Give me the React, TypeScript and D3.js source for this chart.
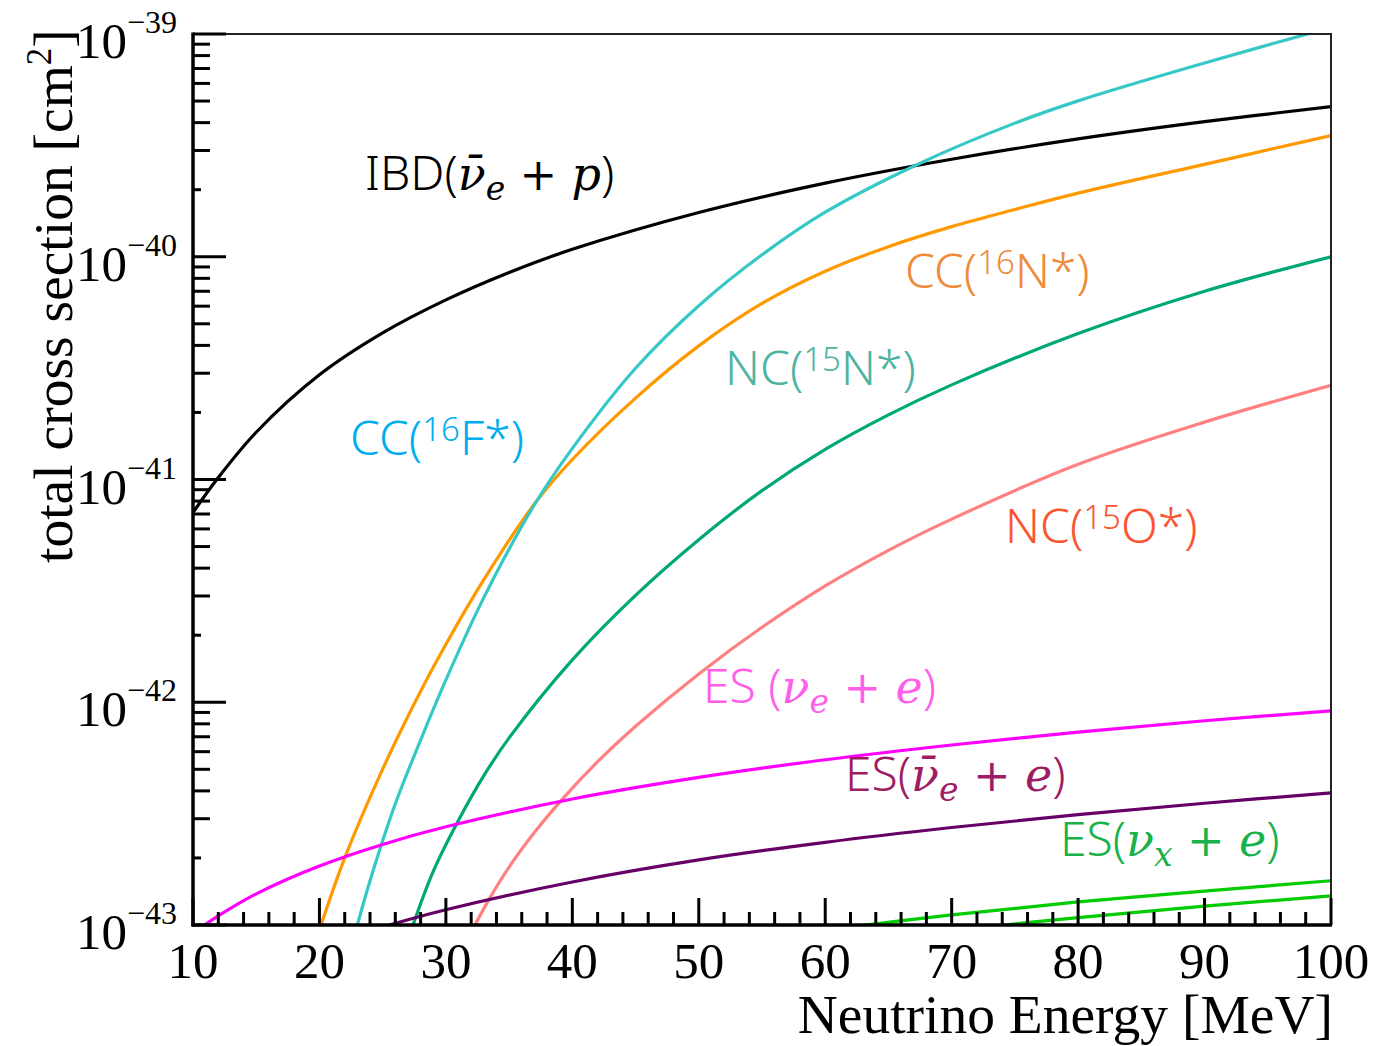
import React from "react";
import * as d3 from "d3";

type Pt = [number, number];

// Total cross sections [cm^2] versus neutrino energy [MeV]
const ibdData: Pt[] = [
  [10, 7.1e-42], [12, 1.02e-41], [15, 1.63e-41], [20, 2.95e-41], [25, 4.55e-41],
  [30, 6.4e-41], [35, 8.5e-41], [40, 1.08e-40], [50, 1.58e-40], [60, 2.14e-40],
  [70, 2.74e-40], [80, 3.38e-40], [90, 4.04e-40], [100, 4.72e-40],
];
const cc16FData: Pt[] = [
  [23, 1.0e-43], [24, 1.58e-43], [26, 3.5e-43], [28, 6.76e-43], [30, 1.26e-42],
  [33, 2.95e-42], [37, 7.7e-42], [40, 1.38e-41], [45, 3.16e-41], [50, 6.03e-41],
  [55, 1.02e-40], [60, 1.585e-40], [67.5, 2.63e-40], [75, 3.98e-40], [80, 5.01e-40],
  [90, 7.41e-40], [100, 1.07e-39],
];
const cc16NData: Pt[] = [
  [20, 9.5e-44], [22, 2.0e-43], [25, 5.01e-43], [28, 1.12e-42], [30, 1.82e-42],
  [33, 3.55e-42], [37, 7.76e-42], [40, 1.23e-41], [45, 2.32e-41], [50, 3.98e-41],
  [55, 6.17e-41], [60, 8.61e-41], [65, 1.11e-40], [70, 1.365e-40], [75, 1.63e-40],
  [80, 1.93e-40], [90, 2.6e-40], [100, 3.5e-40],
];
const nc15NData: Pt[] = [
  [27.4, 1.0e-43], [29, 1.74e-43], [31, 2.95e-43], [33, 4.68e-43], [35, 6.92e-43],
  [40, 1.55e-42], [45, 3.02e-42], [50, 5.37e-42], [55, 8.91e-42], [60, 1.365e-41],
  [65, 1.95e-41], [70, 2.66e-41], [80, 4.52e-41], [90, 7.0e-41], [100, 1.0e-40],
];
const nc15OData: Pt[] = [
  [32.3, 1.0e-43], [33.4, 1.3e-43], [35, 1.82e-43], [37, 2.6e-43], [39.3, 3.72e-43],
  [42, 5.41e-43], [45, 7.8e-43], [50, 1.34e-42], [55, 2.17e-42], [60, 3.33e-42],
  [65, 4.81e-42], [70, 6.64e-42], [80, 1.17e-41], [90, 1.81e-41], [100, 2.65e-41],
];
const esNueData: Pt[] = [
  [10, 0.92e-43], [12, 1.1e-43], [15, 1.38e-43], [20, 1.84e-43], [25, 2.3e-43],
  [30, 2.76e-43], [40, 3.68e-43], [50, 4.6e-43], [60, 5.52e-43], [70, 6.43e-43],
  [80, 7.35e-43], [90, 8.26e-43], [100, 9.15e-43],
];
const esNuebarData: Pt[] = [
  [25, 0.98e-43], [30, 1.17e-43], [40, 1.56e-43], [50, 1.96e-43], [60, 2.35e-43],
  [70, 2.74e-43], [80, 3.13e-43], [90, 3.52e-43], [100, 3.92e-43],
];
const esNuxData: Pt[] = [
  [60, 0.95e-43], [70, 1.11e-43], [80, 1.27e-43], [90, 1.42e-43], [100, 1.58e-43],
];
const esNuxbarData: Pt[] = [
  [70, 0.945e-43], [80, 1.08e-43], [90, 1.215e-43], [100, 1.35e-43],
];

const series = [
  { key: "ibd", data: ibdData, color: "#000000" },
  { key: "cc16N", data: cc16NData, color: "#FF9900" },
  { key: "cc16F", data: cc16FData, color: "#36C8C6" },
  { key: "nc15N", data: nc15NData, color: "#00A878" },
  { key: "nc15O", data: nc15OData, color: "#FF8080" },
  { key: "esNue", data: esNueData, color: "#FF00FF" },
  { key: "esNuebar", data: esNuebarData, color: "#660066" },
  { key: "esNux", data: esNuxData, color: "#00CC00" },
  { key: "esNuxbar", data: esNuxbarData, color: "#00CC00" },
];

const xMajorTicks = [10, 20, 30, 40, 50, 60, 70, 80, 90, 100];
const yMajorTicks = [1e-43, 1e-42, 1e-41, 1e-40, 1e-39];
const yTickExponents = ["\u221243", "\u221242", "\u221241", "\u221240", "\u221239"];

type Part = { t: string; k: "sans" | "math" | "sup" | "sub" | "op" };

const labels: { parts: Part[]; color: string; x: number; y: number }[] = [
  {
    parts: [
      { t: "IBD(", k: "sans" }, { t: "\u03BD\u0304", k: "math" }, { t: "e", k: "sub" },
      { t: " + ", k: "op" }, { t: "p", k: "math" }, { t: ")", k: "sans" },
    ],
    color: "#000000", x: 365, y: 190,
  },
  {
    parts: [{ t: "CC(", k: "sans" }, { t: "16", k: "sup" }, { t: "F*)", k: "sans" }],
    color: "#00AEEF", x: 350, y: 455,
  },
  {
    parts: [{ t: "CC(", k: "sans" }, { t: "16", k: "sup" }, { t: "N*)", k: "sans" }],
    color: "#EF8B3A", x: 905, y: 288,
  },
  {
    parts: [{ t: "NC(", k: "sans" }, { t: "15", k: "sup" }, { t: "N*)", k: "sans" }],
    color: "#4FB3A3", x: 725, y: 385,
  },
  {
    parts: [{ t: "NC(", k: "sans" }, { t: "15", k: "sup" }, { t: "O*)", k: "sans" }],
    color: "#FB5430", x: 1005, y: 543,
  },
  {
    parts: [
      { t: "ES (", k: "sans" }, { t: "\u03BD", k: "math" }, { t: "e", k: "sub" },
      { t: " + ", k: "op" }, { t: "e", k: "math" }, { t: ")", k: "sans" },
    ],
    color: "#FF5EEB", x: 703, y: 703,
  },
  {
    parts: [
      { t: "ES(", k: "sans" }, { t: "\u03BD\u0304", k: "math" }, { t: "e", k: "sub" },
      { t: " + ", k: "op" }, { t: "e", k: "math" }, { t: ")", k: "sans" },
    ],
    color: "#9E1C64", x: 845, y: 791,
  },
  {
    parts: [
      { t: "ES(", k: "sans" }, { t: "\u03BD", k: "math" }, { t: "x", k: "sub" },
      { t: " + ", k: "op" }, { t: "e", k: "math" }, { t: ")", k: "sans" },
    ],
    color: "#19B24A", x: 1060, y: 856,
  },
];

const SANS = "'Noto Sans', 'Open Sans', sans-serif";
const SERIF = "'Liberation Serif', 'DejaVu Serif', serif";
const MATH = "'DejaVu Serif', 'Liberation Serif', serif";

function RichLabel({ parts, color, x, y }: { parts: Part[]; color: string; x: number; y: number }) {
  let shift = 0;
  const spans = parts.map((p, i) => {
    const target = p.k === "sup" ? -14 : p.k === "sub" ? 10 : 0;
    const dy = target - shift;
    shift = target;
    const style: React.SVGProps<SVGTSpanElement> = {};
    if (p.k === "sans") {
      style.fontFamily = SANS;
      style.fontSize = 48;
      style.fontWeight = 300;
    } else if (p.k === "sup") {
      style.fontFamily = SANS;
      style.fontSize = 33;
      style.fontWeight = 300;
    } else if (p.k === "math") {
      style.fontFamily = MATH;
      style.fontStyle = "italic";
      style.fontSize = 46;
    } else if (p.k === "sub") {
      style.fontFamily = MATH;
      style.fontStyle = "italic";
      style.fontSize = 33;
    } else {
      style.fontFamily = MATH;
      style.fontSize = 45;
    }
    return (
      <tspan key={i} dy={dy} {...style}>
        {p.t}
      </tspan>
    );
  });
  return (
    <text x={x} y={y} fill={color} style={{ whiteSpace: "pre" }}>
      {spans}
    </text>
  );
}

export default function App() {
  const left = 193, right = 1331, top = 34, bottom = 925;
  const x = d3.scaleLinear().domain([10, 100]).range([left, right]);
  const y = d3.scaleLog().domain([1e-43, 1e-39]).range([bottom, top]);
  const line = d3
    .line<Pt>()
    .x((d) => x(d[0]))
    .y((d) => y(d[1]))
    .curve(d3.curveCatmullRom.alpha(0.5));

  const xMinor = d3.range(10, 101, 2).filter((v) => v % 10 !== 0);
  const yMinor: { v: number; k: number }[] = [];
  for (let d = 0; d < yMajorTicks.length - 1; d++) {
    for (let k = 2; k <= 9; k++) yMinor.push({ v: k * yMajorTicks[d], k });
  }

  return (
    <svg
      width={1376}
      height={1046}
      style={{ position: "absolute", left: 0, top: 0, background: "#fff" }}
    >
      <rect width={1376} height={1046} fill="#fff" />
      <defs>
        <clipPath id="plotClip">
          <rect x={left} y={top} width={right - left} height={bottom - top} />
        </clipPath>
      </defs>

      <g clipPath="url(#plotClip)" fill="none" strokeWidth={3.2} strokeLinejoin="round">
        {series.map((s) => (
          <path key={s.key} d={line(s.data) || ""} stroke={s.color} />
        ))}
      </g>

      {/* thin frame on top and right */}
      <path d={`M${left},${top}H${right}V${bottom}`} fill="none" stroke="#222" strokeWidth={2} />

      {/* y axis */}
      <g stroke="#000" strokeWidth={3}>
        <line x1={left} x2={left} y1={top - 1.5} y2={bottom + 1.5} strokeWidth={3.5} />
        {yMajorTicks.map((v) => (
          <line key={v} x1={left} x2={left + 33} y1={y(v)} y2={y(v)} />
        ))}
        {yMinor.map(({ v, k }) => (
          <line key={v} x1={left} x2={left + (k === 2 ? 8 : 17)} y1={y(v)} y2={y(v)} />
        ))}
      </g>
      <g fontFamily={SERIF} fill="#000">
        {yMajorTicks.map((v, i) => (
          <text key={v} x={177} y={y(v) + 24} textAnchor="end" fontSize={51}>
            10
            <tspan dy={-25} fontSize={32}>
              {yTickExponents[i]}
            </tspan>
          </text>
        ))}
      </g>

      {/* x axis */}
      <g stroke="#000" strokeWidth={3}>
        <line x1={left - 1.5} x2={right + 1} y1={bottom} y2={bottom} strokeWidth={3.5} />
        {xMajorTicks.map((v) => (
          <line key={v} x1={x(v)} x2={x(v)} y1={bottom} y2={bottom - 27} />
        ))}
        {xMinor.map((v) => (
          <line key={v} x1={x(v)} x2={x(v)} y1={bottom} y2={bottom - 13} />
        ))}
      </g>
      <g fontFamily={SERIF} fill="#000" fontSize={51} textAnchor="middle">
        {xMajorTicks.map((v) => (
          <text key={v} x={x(v)} y={978}>
            {v}
          </text>
        ))}
      </g>

      {/* axis titles */}
      <text x={right + 2} y={1033} textAnchor="end" fontFamily={SERIF} fontSize={55.5}>
        Neutrino Energy [MeV]
      </text>
      <text transform="translate(72,563) rotate(-90)" fontFamily={SERIF} fontSize={55.5}>
        total cross section [cm
        <tspan dy={-21} fontSize={35}>
          2
        </tspan>
        <tspan dy={21}>]</tspan>
      </text>

      {labels.map((l, i) => (
        <RichLabel key={i} {...l} />
      ))}
    </svg>
  );
}
